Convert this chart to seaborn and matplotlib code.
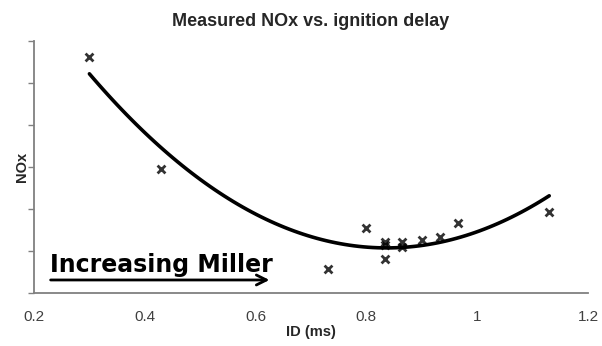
import numpy as np
import pandas as pd
import matplotlib
matplotlib.use('Agg')
import matplotlib.pyplot as plt
import seaborn as sns

# ignition delay (ms) vs measured NOx (arbitrary units)
id_ms = [0.30, 0.43, 0.73, 0.80, 0.833, 0.833, 0.833, 0.865, 0.865, 0.90, 0.933, 0.965, 1.13]
nox = [5.62, 2.95, 0.58, 1.55, 1.21, 0.81, 1.14, 1.21, 1.10, 1.26, 1.33, 1.67, 1.93]

df = pd.DataFrame({'ID (ms)': id_ms, 'NOx': nox})

sns.set_style('white')
plt.rcParams['font.family'] = ['Liberation Sans', 'DejaVu Sans']

fig = plt.figure(figsize=(6.02, 3.46), dpi=100)
ax = fig.add_axes([34 / 602, 53 / 346, 554 / 602, 252 / 346])

# scatter + 2nd order trendline
sns.regplot(data=df, x='ID (ms)', y='NOx', order=2, ci=None, ax=ax,
            marker='x', scatter_kws={'color': 'black', 's': 32, 'linewidths': 2},
            line_kws={'color': 'black', 'linewidth': 2.6})

ax.set_xlim(0.2, 1.2)
ax.set_ylim(0, 6)
ax.set_xticks([0.2, 0.4, 0.6, 0.8, 1.0, 1.2])
ax.set_xticklabels(['0.2', '0.4', '0.6', '0.8', '1', '1.2'])
ax.set_yticks(range(7))
ax.set_yticklabels([])
ax.tick_params(axis='x', length=0, pad=12, labelsize=11, labelcolor='#404040')
ax.tick_params(axis='y', length=4, width=1, color='#808080', direction='out', left=True)

for s in ['top', 'right']:
    ax.spines[s].set_visible(False)
for s in ['left', 'bottom']:
    ax.spines[s].set_color('#808080')
    ax.spines[s].set_linewidth(1.3)

ax.set_xlabel('ID (ms)', fontsize=10.5, fontweight='bold', labelpad=1)
ax.set_ylabel('NOx', fontsize=10.5, fontweight='bold', labelpad=-4)
ax.set_title('Measured NOx vs. ignition delay', fontsize=13, fontweight='bold', pad=11)

ax.annotate('', xy=(0.63, 0.31), xytext=(0.225, 0.31),
            arrowprops=dict(arrowstyle='->', color='black', lw=2, mutation_scale=18))
ax.text(0.229, 0.50, 'Increasing Miller', fontsize=17, fontweight='bold',
        family='DejaVu Sans', color='black', ha='left', va='baseline')

fig.savefig('out.png', dpi=100)
